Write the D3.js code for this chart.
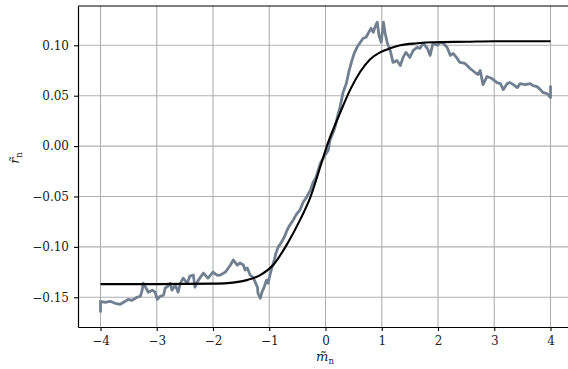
<!DOCTYPE html>
<html>
<head>
<meta charset="utf-8">
<script src="https://cdn.jsdelivr.net/npm/d3@7"></script>
<style>
  body { margin: 0; background: #fff; }
  svg text { font-family: 'DejaVu Serif', serif; fill: #222; }
</style>
</head>
<body>
<svg id="chart" width="568" height="369"></svg>
<script>
const mData = [-4.00, -4.00, -3.92, -3.83, -3.74, -3.65, -3.56, -3.51, -3.44, -3.35, -3.29, -3.26, -3.24, -3.19, -3.15, -3.08, -3.03,
  -2.99, -2.94, -2.88, -2.85, -2.80, -2.76, -2.73, -2.67, -2.62, -2.58, -2.53, -2.46, -2.41, -2.35, -2.32, -2.26, -2.17, -2.09,
  -2.00, -1.93, -1.87, -1.78, -1.69, -1.64, -1.57, -1.52, -1.46, -1.43, -1.39, -1.34, -1.29, -1.25, -1.21, -1.20, -1.16, -1.13,
  -1.09, -1.05, -1.02, -0.98, -0.95, -0.91, -0.88, -0.84, -0.79, -0.73, -0.68, -0.63, -0.57, -0.52, -0.45, -0.40, -0.34, -0.27,
  -0.22, -0.17, -0.13, -0.09, -0.06, -0.01, 0.05, 0.08, 0.14, 0.17, 0.23, 0.26, 0.31, 0.37, 0.42, 0.47, 0.51, 0.56, 0.62, 0.67,
  0.72, 0.76, 0.81, 0.85, 0.88, 0.92, 0.95, 0.99, 1.03, 1.06, 1.10, 1.15, 1.20, 1.27, 1.33, 1.38, 1.43, 1.50, 1.56, 1.63, 1.68,
  1.74, 1.81, 1.86, 1.91, 1.99, 2.04, 2.09, 2.16, 2.22, 2.27, 2.34, 2.39, 2.48, 2.57, 2.66, 2.71, 2.75, 2.80, 2.87, 2.96, 3.05,
  3.11, 3.16, 3.23, 3.28, 3.34, 3.41, 3.46, 3.55, 3.64, 3.69, 3.76, 3.82, 3.87, 3.94, 4.00, 4.00];
const rData = [-0.165, -0.154, -0.155, -0.154, -0.156, -0.157, -0.154, -0.152, -0.153, -0.150, -0.149, -0.143, -0.136, -0.141, -0.145, -0.143, -0.145,
  -0.152, -0.149, -0.148, -0.141, -0.139, -0.136, -0.143, -0.138, -0.145, -0.136, -0.131, -0.136, -0.129, -0.128, -0.140, -0.133, -0.126, -0.131,
  -0.125, -0.128, -0.128, -0.125, -0.118, -0.113, -0.118, -0.116, -0.118, -0.123, -0.121, -0.128, -0.130, -0.135, -0.140, -0.146, -0.151, -0.145,
  -0.140, -0.133, -0.136, -0.126, -0.120, -0.113, -0.106, -0.100, -0.096, -0.090, -0.083, -0.078, -0.073, -0.068, -0.063, -0.056, -0.051, -0.044,
  -0.036, -0.031, -0.024, -0.017, -0.014, -0.009, -0.004, 0.006, 0.014, 0.019, 0.033, 0.039, 0.053, 0.062, 0.075, 0.085, 0.092, 0.098, 0.103, 0.107,
  0.108, 0.112, 0.117, 0.113, 0.118, 0.123, 0.110, 0.103, 0.123, 0.112, 0.102, 0.095, 0.083, 0.085, 0.080, 0.088, 0.093, 0.088, 0.095, 0.098, 0.097,
  0.102, 0.097, 0.090, 0.102, 0.100, 0.103, 0.102, 0.098, 0.090, 0.092, 0.087, 0.083, 0.082, 0.077, 0.073, 0.071, 0.075, 0.061, 0.069, 0.067, 0.063,
  0.062, 0.056, 0.062, 0.063, 0.061, 0.058, 0.062, 0.061, 0.062, 0.060, 0.059, 0.056, 0.053, 0.052, 0.048, 0.060];

// fitted curve (black)
const mFit = [-4.0, -3.0, -2.0, -1.75, -1.4, -1.16, -0.93, -0.68, -0.45, -0.27, -0.09, 0.03, 0.26, 0.44, 0.62, 0.79, 0.97, 1.15, 1.33, 1.63, 1.92, 2.5, 3.0, 4.0];
const rFit = [-0.137, -0.137, -0.1365, -0.136, -0.133, -0.128, -0.118, -0.097, -0.073, -0.051, -0.020, 0.001, 0.033, 0.056, 0.074, 0.086, 0.093, 0.097, 0.100, 0.102, 0.103, 0.1035, 0.104, 0.104];

const xTicks = [-4, -3, -2, -1, 0, 1, 2, 3, 4];
const yTicks = [-0.15, -0.10, -0.05, 0.00, 0.05, 0.10];

const margin = { left: 78, top: 6, right: 78 + 495, bottom: 327 };

const x = d3.scaleLinear().domain([-4.4, 4.4]).range([margin.left, margin.right]);
const y = d3.scaleLinear().domain([-0.1795, 0.139]).range([margin.bottom, margin.top]);

const svg = d3.select('#chart');
const fmtY = d => d3.format('.2f')(d).replace('-', '\u2212');
const fmtX = d => String(d).replace('-', '\u2212');

// grid
svg.append('g')
  .selectAll('line')
  .data(xTicks)
  .join('line')
  .attr('x1', d => x(d)).attr('x2', d => x(d))
  .attr('y1', margin.top).attr('y2', margin.bottom)
  .attr('stroke', '#b0b0b0').attr('stroke-width', 1.1);
svg.append('g')
  .selectAll('line')
  .data(yTicks)
  .join('line')
  .attr('x1', margin.left).attr('x2', margin.right)
  .attr('y1', d => y(d)).attr('y2', d => y(d))
  .attr('stroke', '#b0b0b0').attr('stroke-width', 1.1);

// lines
const measured = mData.map((m, i) => [m, rData[i]]);
const fit = mFit.map((m, i) => [m, rFit[i]]);

svg.append('path')
  .datum(measured)
  .attr('fill', 'none')
  .attr('stroke', '#708090')
  .attr('stroke-width', 2.8)
  .attr('stroke-linejoin', 'round')
  .attr('d', d3.line().x(d => x(d[0])).y(d => y(d[1])));

svg.append('path')
  .datum(fit)
  .attr('fill', 'none')
  .attr('stroke', '#000')
  .attr('stroke-width', 2.1)
  .attr('d', d3.line().curve(d3.curveMonotoneX).x(d => x(d[0])).y(d => y(d[1])));

// axes
const xAxis = svg.append('g')
  .attr('transform', `translate(0,${margin.bottom})`)
  .call(d3.axisBottom(x).tickValues(xTicks).tickFormat(fmtX).tickSize(4).tickPadding(5).tickSizeOuter(0));
const yAxis = svg.append('g')
  .attr('transform', `translate(${margin.left},0)`)
  .call(d3.axisLeft(y).tickValues(yTicks).tickFormat(fmtY).tickSize(4).tickPadding(5).tickSizeOuter(0));

[xAxis, yAxis].forEach(a => {
  a.attr('font-family', null);
  a.select('.domain').attr('stroke', '#000').attr('stroke-width', 1.2);
  a.selectAll('.tick line').attr('stroke', '#000').attr('stroke-width', 1.1);
  a.selectAll('.tick text').attr('font-size', 12).attr('fill', '#222');
});

// top spine
svg.append('line')
  .attr('x1', margin.left).attr('x2', margin.right)
  .attr('y1', margin.top).attr('y2', margin.top)
  .attr('stroke', '#000').attr('stroke-width', 1.2);

// axis labels
const xl = svg.append('text')
  .attr('x', 325).attr('y', 361)
  .attr('text-anchor', 'middle')
  .attr('font-size', 13);
xl.append('tspan').attr('font-style', 'italic').text('m\u0303');
xl.append('tspan').attr('font-size', 8.5).attr('dy', 3).text('n');

const yl = svg.append('text')
  .attr('transform', 'translate(19,158) rotate(-90)')
  .attr('text-anchor', 'middle')
  .attr('font-size', 13);
yl.append('tspan').attr('font-style', 'italic').text('r\u0303');
yl.append('tspan').attr('font-size', 8.5).attr('dy', 3).text('n');
</script>
</body>
</html>
